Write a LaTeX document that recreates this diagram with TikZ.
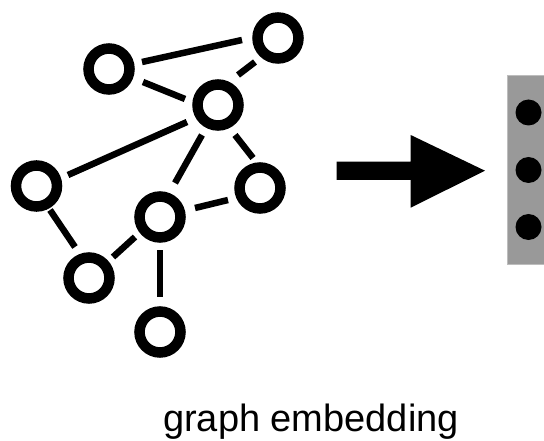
\documentclass[tikz,border=0pt]{standalone}
\usepackage{fontspec}
\setmainfont{Liberation Sans}
\usetikzlibrary{calc}
\definecolor{embgray}{HTML}{999999}
\definecolor{embedge}{HTML}{BDBDBD}
\tikzset{
  vert/.style={circle, draw=black, line width=10.5pt, minimum size=41pt, inner sep=0pt, fill=white},
  edge/.style={line width=6.5pt, black},
  dotnode/.style={circle, fill=black, minimum size=26pt, inner sep=0pt},
}
\begin{document}
\begin{tikzpicture}[x=1pt,y=-1pt]
\useasboundingbox (0,0) rectangle (544,441);
% vertices
\node[vert] (A) at (109,69) {};
\node[vert] (B) at (278,38) {};
\node[vert] (C) at (218,105) {};
\node[vert] (D) at (36.5,186) {};
\node[vert] (E) at (260,188) {};
\node[vert] (F) at (160,217) {};
\node[vert] (G) at (89,278) {};
\node[vert] (H) at (160,332) {};
% edges
\draw[edge] ($(A)+(33,-7)$) -- ($(B)+(-36,2)$);
\draw[edge] ($(A)+(34,13)$) -- ($(C)+(-33,-6)$);
\draw[edge] ($(B)+(-23,24)$) -- ($(C)+(20,-30)$);
\draw[edge] ($(C)+(-31,17)$) -- ($(D)+(31.5,-11)$);
\draw[edge] ($(C)+(-16,30)$) -- ($(F)+(15,-34)$);
\draw[edge] ($(C)+(17,30)$) -- ($(E)+(-7,-30)$);
\draw[edge] ($(E)+(-32,12)$) -- ($(F)+(35,-9)$);
\draw[edge] ($(D)+(13.5,24)$) -- ($(G)+(-14,-31)$);
\draw[edge] ($(G)+(24,-21)$) -- ($(F)+(-25,20)$);
\draw[edge] ($(F)+(0,33)$) -- ($(H)+(0,-35)$);
% arrow
\fill[black] (336.7,161.7) -- (410.7,161.7) -- (410.7,135) -- (485,170.7)
  -- (410.7,207.7) -- (410.7,180) -- (336.7,180) -- cycle;
% embedding vector
\node[draw=embedge, fill=embgray, line width=1pt, minimum width=44pt, minimum height=189pt,
  inner sep=0pt, anchor=north west] (emb) at (507,75) {};
\node[dotnode] (d1) at (528.5,112.5) {};
\node[dotnode] (d2) at (528.5,170) {};
\node[dotnode] (d3) at (528.5,227) {};
% label
\node[anchor=base, inner sep=0pt, font=\fontsize{38}{44}\selectfont] (lbl) at (311,431.7) {graph embedding};
\end{tikzpicture}
\end{document}
